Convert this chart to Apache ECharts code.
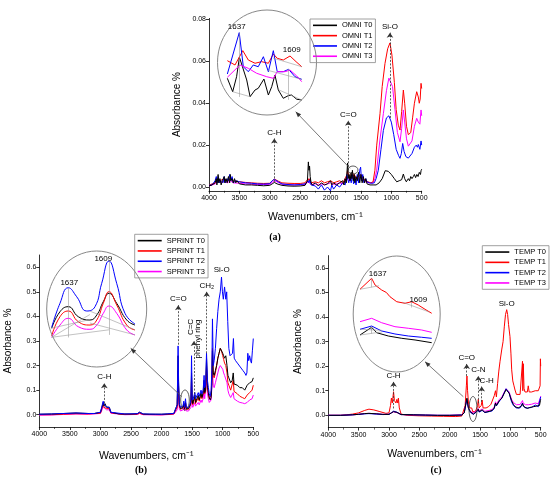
<!DOCTYPE html>
<html>
<head>
<meta charset="utf-8">
<script src="https://cdn.jsdelivr.net/npm/echarts@6/dist/echarts.min.js"></script>
<style>html,body{margin:0;padding:0;background:#fff}#chart{width:550px;height:480px}</style>
</head>
<body>
<div id="chart"></div>
<script>
// ---- data: [wavenumber, absorbance] ----
var omniT0 = [[4000,0.0005],[3950,0.001],[3900,0.002],[3880,0.004],[3870,0.001],[3850,0.006],[3840,0.002],[3820,0.004],[3800,0.001],[3780,0.003],[3750,0.005],[3740,0.002],[3720,0.004],[3700,0.002],[3680,0.005],[3660,0.002],[3650,0.006],[3640,0.003],[3620,0.004],[3600,0.002],[3580,0.004],[3560,0.002],[3540,0.003],[3500,0.0015],[3400,0.001],[3300,0.001],[3200,0.0008],[3100,0.0006],[3000,0.0008],[2960,0.0015],[2925,0.0022],[2880,0.0015],[2850,0.0018],[2800,0.0008],[2700,0.0005],[2600,0.0004],[2500,0.0005],[2420,0.0008],[2380,0.003],[2365,0.012],[2355,0.008],[2345,0.010],[2335,0.005],[2320,0.002],[2300,0.001],[2250,0.002],[2200,0.0005],[2150,0.002],[2100,0.001],[2050,0.0015],[2000,0.003],[1980,0.001],[1950,0.002],[1900,0.001],[1850,0.002],[1800,0.003],[1780,0.001],[1760,0.004],[1740,0.002],[1720,0.0115],[1710,0.004],[1695,0.006],[1680,0.003],[1660,0.007],[1650,0.004],[1640,0.008],[1625,0.003],[1610,0.006],[1600,0.002],[1580,0.005],[1560,0.003],[1540,0.007],[1520,0.002],[1500,0.006],[1480,0.002],[1460,0.005],[1440,0.002],[1420,0.004],[1400,0.0015],[1350,0.001],[1300,0.001],[1250,0.001],[1200,0.002],[1150,0.004],[1100,0.0078],[1076,0.0082],[1050,0.0075],[1000,0.006],[950,0.004],[911,0.0025],[870,0.003],[830,0.0035],[802,0.0062],[780,0.004],[753,0.0025],[720,0.004],[700,0.003],[680,0.005],[660,0.004],[638,0.005],[620,0.006],[600,0.0045],[580,0.006],[560,0.005],[540,0.007],[520,0.006],[511,0.0078],[500,0.0085]];
var omniT1 = [[4000,0.0008],[3950,0.0015],[3900,0.002],[3880,0.003],[3850,0.004],[3820,0.003],[3800,0.0025],[3750,0.004],[3700,0.003],[3650,0.004],[3600,0.003],[3500,0.0025],[3400,0.0022],[3300,0.002],[3200,0.0018],[3100,0.0017],[3000,0.0018],[2960,0.003],[2925,0.0038],[2900,0.003],[2860,0.0028],[2800,0.002],[2700,0.0018],[2600,0.0017],[2500,0.0017],[2420,0.002],[2370,0.004],[2355,0.003],[2340,0.004],[2320,0.002],[2250,0.0025],[2200,0.002],[2150,0.003],[2100,0.002],[2050,0.0025],[2000,0.003],[1950,0.002],[1900,0.0025],[1850,0.003],[1800,0.002],[1760,0.004],[1730,0.006],[1720,0.008],[1700,0.005],[1660,0.006],[1637,0.007],[1620,0.005],[1609,0.006],[1580,0.004],[1540,0.005],[1500,0.006],[1460,0.004],[1420,0.003],[1380,0.0025],[1340,0.002],[1300,0.0025],[1270,0.008],[1240,0.02],[1186,0.035],[1150,0.048],[1104,0.059],[1060,0.066],[1022,0.0688],[990,0.063],[950,0.05],[920,0.037],[885,0.0295],[857,0.0272],[830,0.036],[802,0.0463],[780,0.04],[750,0.029],[720,0.025],[704,0.0243],[680,0.026],[650,0.033],[620,0.04],[600,0.043],[582,0.0455],[556,0.043],[540,0.04],[525,0.042],[511,0.0495],[500,0.047]];
var omniT2 = [[4000,0.0008],[3950,0.001],[3900,0.003],[3880,0.005],[3860,0.002],[3845,0.005],[3830,0.002],[3800,0.003],[3770,0.002],[3750,0.005],[3730,0.002],[3700,0.004],[3680,0.003],[3660,0.006],[3640,0.003],[3620,0.005],[3600,0.002],[3560,0.003],[3500,0.0025],[3400,0.002],[3300,0.0018],[3200,0.0015],[3100,0.0014],[3000,0.0016],[2960,0.003],[2925,0.0037],[2900,0.0028],[2860,0.0025],[2800,0.0015],[2700,0.0012],[2600,0.001],[2500,0.0012],[2420,0.0015],[2370,0.003],[2355,0.002],[2340,0.0035],[2320,0.001],[2250,0.0005],[2200,-0.001],[2150,0.001],[2100,-0.0015],[2050,0],[2000,-0.0018],[1980,0.001],[1950,-0.001],[1900,0.001],[1850,0],[1800,0.002],[1760,0.001],[1730,0.006],[1720,0.004],[1700,0.002],[1680,0.005],[1660,0.002],[1640,0.006],[1620,0.0015],[1600,0.004],[1580,0.001],[1560,0.006],[1540,0.002],[1520,0.008],[1505,0.0095],[1490,0.003],[1470,0.006],[1450,0.002],[1420,0.004],[1400,0.0025],[1360,0.002],[1320,0.0018],[1280,0.002],[1250,0.004],[1214,0.008],[1170,0.018],[1131,0.027],[1080,0.033],[1040,0.034],[1000,0.031],[960,0.025],[920,0.018],[880,0.015],[857,0.0137],[835,0.016],[813,0.0208],[790,0.017],[760,0.0145],[720,0.0138],[692,0.0137],[660,0.016],[620,0.019],[590,0.02],[570,0.019],[556,0.0203],[530,0.018],[511,0.022],[500,0.02]];
var omniT3 = [[4000,0.0005],[3950,0.001],[3900,0.0015],[3850,0.003],[3800,0.002],[3750,0.003],[3700,0.002],[3650,0.003],[3600,0.002],[3500,0.0018],[3400,0.0015],[3300,0.0013],[3200,0.0012],[3100,0.0012],[3000,0.0013],[2960,0.0022],[2925,0.003],[2900,0.0025],[2860,0.0022],[2800,0.0013],[2700,0.001],[2600,0.001],[2500,0.001],[2420,0.0012],[2370,0.0025],[2355,0.002],[2340,0.003],[2320,0.0012],[2250,0.0015],[2200,0.001],[2150,0.0015],[2100,0.001],[2050,0.0015],[2000,0.002],[1950,0.0012],[1900,0.0015],[1850,0.002],[1800,0.0015],[1760,0.003],[1730,0.005],[1720,0.004],[1700,0.003],[1660,0.004],[1637,0.005],[1620,0.0035],[1609,0.0045],[1580,0.003],[1540,0.004],[1500,0.005],[1460,0.003],[1420,0.0025],[1380,0.002],[1340,0.002],[1300,0.002],[1270,0.004],[1240,0.0081],[1190,0.022],[1131,0.035],[1080,0.046],[1040,0.052],[1010,0.0527],[980,0.048],[940,0.037],[900,0.026],[857,0.0216],[830,0.028],[802,0.0368],[780,0.031],[750,0.023],[720,0.0195],[692,0.0192],[660,0.022],[620,0.029],[582,0.0328],[556,0.031],[530,0.03],[511,0.0368],[500,0.034]];

var sprintT0 = [[4000,0.002],[3800,0.003],[3600,0.005],[3400,0.007],[3300,0.006],[3200,0.005],[3100,0.005],[3000,0.01],[2970,0.035],[2955,0.05],[2940,0.035],[2925,0.045],[2900,0.03],[2875,0.035],[2855,0.03],[2830,0.01],[2800,0.005],[2700,0.003],[2600,0.003],[2500,0.003],[2400,0.004],[2360,0.01],[2340,0.006],[2300,0.003],[2200,0.002],[2100,0.002],[2000,0.002],[1900,0.003],[1800,0.005],[1770,0.012],[1745,0.04],[1730,0.24],[1722,0.12],[1710,0.04],[1690,0.025],[1670,0.02],[1650,0.03],[1637,0.045],[1625,0.025],[1609,0.05],[1595,0.025],[1580,0.03],[1560,0.025],[1540,0.035],[1520,0.05],[1510,0.17],[1500,0.06],[1490,0.045],[1470,0.05],[1455,0.08],[1445,0.05],[1420,0.055],[1400,0.08],[1385,0.06],[1370,0.065],[1355,0.09],[1340,0.07],[1320,0.09],[1305,0.14],[1295,0.09],[1280,0.1],[1265,0.23],[1250,0.12],[1235,0.09],[1220,0.07],[1205,0.06],[1190,0.07],[1178,0.12],[1168,0.26],[1155,0.17],[1140,0.16],[1120,0.18],[1100,0.2],[1080,0.23],[1060,0.25],[1040,0.27],[1020,0.265],[1000,0.25],[985,0.24],[970,0.23],[950,0.24],[930,0.2],[915,0.16],[900,0.15],[870,0.13],[845,0.14],[828,0.17],[815,0.125],[790,0.12],[760,0.12],[720,0.11],[680,0.11],[640,0.1],[615,0.105],[600,0.12],[580,0.125],[560,0.13],[540,0.125],[520,0.135],[500,0.15]];
var sprintT1 = [[4000,0],[3800,0],[3600,0.002],[3400,0.004],[3200,0.003],[3000,0.006],[2970,0.03],[2955,0.042],[2940,0.03],[2925,0.038],[2900,0.025],[2875,0.03],[2855,0.025],[2830,0.008],[2800,0.003],[2600,0.001],[2400,0.002],[2360,0.006],[2300,0.001],[2000,0],[1800,0.003],[1770,0.01],[1745,0.03],[1730,0.18],[1722,0.1],[1710,0.035],[1690,0.022],[1670,0.018],[1650,0.028],[1637,0.04],[1625,0.022],[1609,0.05],[1595,0.022],[1580,0.025],[1560,0.022],[1540,0.03],[1520,0.045],[1510,0.15],[1500,0.055],[1490,0.04],[1470,0.045],[1455,0.07],[1445,0.045],[1420,0.05],[1400,0.07],[1385,0.055],[1370,0.06],[1355,0.08],[1340,0.065],[1320,0.085],[1305,0.13],[1295,0.085],[1280,0.095],[1265,0.2],[1250,0.11],[1235,0.085],[1220,0.065],[1205,0.06],[1190,0.08],[1178,0.15],[1168,0.27],[1155,0.16],[1140,0.15],[1120,0.17],[1100,0.2],[1080,0.23],[1060,0.25],[1040,0.27],[1020,0.26],[1000,0.24],[985,0.225],[970,0.21],[950,0.2],[930,0.17],[915,0.13],[900,0.12],[870,0.1],[845,0.1],[828,0.14],[815,0.095],[790,0.09],[760,0.085],[720,0.075],[680,0.07],[640,0.065],[615,0.07],[600,0.08],[580,0.085],[560,0.09],[540,0.085],[520,0.1],[500,0.12]];
var sprintT2 = [[4000,0.002],[3800,0.003],[3600,0.005],[3400,0.007],[3200,0.005],[3100,0.005],[3000,0.01],[2970,0.04],[2955,0.055],[2940,0.04],[2925,0.048],[2900,0.032],[2875,0.038],[2855,0.03],[2830,0.01],[2800,0.005],[2600,0.003],[2400,0.004],[2360,0.01],[2340,0.006],[2300,0.003],[2000,0.002],[1800,0.005],[1770,0.012],[1745,0.04],[1730,0.28],[1722,0.14],[1710,0.045],[1690,0.03],[1670,0.025],[1650,0.035],[1637,0.055],[1625,0.03],[1609,0.065],[1595,0.03],[1580,0.035],[1560,0.03],[1540,0.04],[1520,0.06],[1510,0.24],[1500,0.07],[1490,0.06],[1470,0.065],[1455,0.09],[1445,0.065],[1420,0.07],[1400,0.09],[1385,0.075],[1370,0.08],[1355,0.1],[1340,0.085],[1320,0.1],[1305,0.16],[1295,0.11],[1280,0.12],[1265,0.25],[1250,0.14],[1235,0.11],[1220,0.085],[1205,0.075],[1190,0.1],[1178,0.18],[1168,0.39],[1155,0.2],[1140,0.22],[1120,0.27],[1100,0.35],[1080,0.42],[1060,0.47],[1040,0.5],[1020,0.56],[1005,0.5],[990,0.47],[970,0.52],[950,0.47],[935,0.5],[918,0.38],[900,0.27],[880,0.24],[860,0.24],[840,0.25],[825,0.31],[812,0.23],[790,0.22],[760,0.21],[730,0.215],[700,0.19],[670,0.18],[640,0.17],[620,0.16],[605,0.17],[590,0.25],[575,0.22],[560,0.24],[545,0.22],[530,0.21],[515,0.26],[500,0.31]];
var sprintT3 = [[4000,-0.002],[3800,-0.001],[3600,0.001],[3400,0.003],[3200,0.002],[3000,0.005],[2970,0.022],[2955,0.032],[2940,0.024],[2925,0.03],[2900,0.02],[2875,0.024],[2855,0.02],[2830,0.006],[2800,0.002],[2600,0],[2400,0.001],[2360,0.005],[2300,0],[2000,-0.001],[1800,0.002],[1770,0.008],[1745,0.02],[1730,0.09],[1722,0.06],[1710,0.025],[1690,0.015],[1670,0.012],[1650,0.02],[1637,0.03],[1625,0.015],[1609,0.038],[1595,0.015],[1580,0.018],[1560,0.015],[1540,0.02],[1520,0.03],[1510,0.1],[1500,0.04],[1490,0.03],[1470,0.035],[1455,0.05],[1445,0.035],[1420,0.04],[1400,0.05],[1385,0.04],[1370,0.045],[1355,0.06],[1340,0.05],[1320,0.065],[1305,0.1],[1295,0.065],[1280,0.07],[1265,0.15],[1250,0.085],[1235,0.065],[1220,0.05],[1205,0.045],[1190,0.06],[1178,0.11],[1168,0.18],[1155,0.12],[1140,0.11],[1120,0.13],[1100,0.15],[1080,0.17],[1060,0.19],[1040,0.2],[1020,0.195],[1000,0.185],[985,0.17],[970,0.16],[950,0.155],[930,0.13],[915,0.1],[900,0.085],[870,0.07],[845,0.07],[828,0.09],[815,0.065],[790,0.06],[760,0.055],[720,0.05],[680,0.048],[640,0.045],[615,0.048],[600,0.05],[580,0.055],[560,0.06],[540,0.055],[520,0.065],[500,0.08]];

var tempT0 = [[4000,0],[3800,0],[3600,0.002],[3500,0.004],[3400,0.007],[3330,0.008],[3200,0.006],[3100,0.004],[3000,0.004],[2960,0.01],[2925,0.015],[2900,0.01],[2870,0.012],[2850,0.011],[2800,0.003],[2600,0.002],[2400,0.001],[2200,0],[2000,0],[1800,0.001],[1760,0.01],[1725,0.06],[1715,0.07],[1705,0.05],[1690,0.03],[1660,0.015],[1637,0.01],[1610,0.005],[1590,0.008],[1560,0.015],[1540,0.018],[1528,0.025],[1515,0.015],[1490,0.012],[1465,0.022],[1450,0.015],[1420,0.012],[1400,0.014],[1350,0.016],[1300,0.02],[1265,0.03],[1245,0.05],[1230,0.04],[1210,0.045],[1180,0.06],[1140,0.07],[1100,0.09],[1070,0.105],[1060,0.11],[1045,0.105],[1020,0.09],[1000,0.075],[980,0.06],[950,0.045],[923,0.035],[900,0.032],[870,0.03],[840,0.032],[815,0.038],[800,0.048],[790,0.04],[775,0.035],[750,0.032],[720,0.028],[705,0.03],[680,0.032],[650,0.033],[620,0.035],[590,0.04],[560,0.038],[540,0.036],[520,0.04],[505,0.06],[500,0.065]];
var tempT1 = [[4000,0],[3800,0],[3700,0.002],[3600,0.005],[3500,0.01],[3400,0.02],[3330,0.025],[3250,0.022],[3150,0.015],[3050,0.008],[3000,0.01],[2975,0.04],[2960,0.07],[2945,0.05],[2925,0.096],[2910,0.06],[2885,0.05],[2870,0.065],[2855,0.05],[2845,0.07],[2830,0.03],[2800,0.005],[2700,0],[2500,-0.002],[2300,-0.003],[2100,-0.004],[1900,-0.005],[1800,-0.003],[1770,0.005],[1745,0.04],[1725,0.12],[1715,0.16],[1705,0.1],[1690,0.05],[1670,0.03],[1650,0.025],[1637,0.03],[1620,0.015],[1600,0.01],[1580,0.015],[1560,0.025],[1540,0.04],[1528,0.065],[1515,0.03],[1495,0.025],[1480,0.04],[1465,0.062],[1450,0.03],[1420,0.025],[1400,0.03],[1360,0.035],[1320,0.045],[1290,0.05],[1265,0.08],[1245,0.1],[1230,0.075],[1210,0.13],[1190,0.18],[1170,0.22],[1143,0.266],[1120,0.3],[1100,0.36],[1080,0.41],[1060,0.43],[1045,0.41],[1030,0.37],[1006,0.32],[990,0.25],[978,0.185],[960,0.14],[940,0.12],[923,0.103],[900,0.085],[868,0.083],[840,0.085],[815,0.09],[800,0.22],[795,0.1],[787,0.21],[775,0.11],[759,0.095],[740,0.09],[720,0.095],[705,0.12],[690,0.095],[670,0.1],[650,0.095],[620,0.103],[590,0.1],[560,0.1],[540,0.1],[520,0.098],[510,0.12],[505,0.23],[500,0.2]];
var tempT2 = [[4000,0],[3800,0],[3600,0.002],[3500,0.004],[3400,0.006],[3330,0.007],[3200,0.005],[3100,0.003],[3000,0.004],[2960,0.01],[2925,0.017],[2900,0.011],[2870,0.013],[2850,0.012],[2800,0.003],[2600,0.002],[2400,0.001],[2200,0],[2000,0],[1800,0.001],[1760,0.01],[1725,0.055],[1715,0.065],[1705,0.045],[1690,0.028],[1660,0.012],[1637,0.008],[1610,0.004],[1590,0.007],[1560,0.013],[1540,0.016],[1528,0.022],[1515,0.013],[1490,0.011],[1465,0.02],[1450,0.013],[1420,0.011],[1400,0.013],[1350,0.015],[1300,0.018],[1265,0.028],[1245,0.048],[1230,0.038],[1210,0.043],[1180,0.058],[1140,0.07],[1100,0.092],[1070,0.108],[1060,0.114],[1045,0.108],[1020,0.09],[1000,0.072],[980,0.055],[950,0.04],[923,0.034],[900,0.03],[870,0.028],[840,0.03],[815,0.035],[800,0.05],[790,0.038],[775,0.032],[750,0.03],[720,0.027],[705,0.03],[680,0.031],[650,0.032],[620,0.034],[590,0.042],[560,0.037],[540,0.035],[520,0.04],[505,0.07],[500,0.075]];
var tempT3 = [[4000,0],[3800,0],[3600,0.002],[3500,0.004],[3400,0.007],[3330,0.008],[3200,0.006],[3100,0.004],[3000,0.004],[2960,0.01],[2925,0.014],[2900,0.01],[2870,0.011],[2850,0.01],[2800,0.003],[2600,0.002],[2400,0.001],[2200,0],[2000,0],[1800,0.002],[1760,0.012],[1725,0.06],[1715,0.068],[1705,0.05],[1690,0.03],[1660,0.016],[1637,0.013],[1610,0.01],[1590,0.012],[1560,0.018],[1540,0.021],[1528,0.028],[1515,0.018],[1490,0.016],[1465,0.026],[1450,0.018],[1420,0.016],[1400,0.018],[1350,0.02],[1300,0.024],[1265,0.034],[1245,0.055],[1230,0.045],[1210,0.05],[1180,0.065],[1140,0.075],[1100,0.095],[1070,0.108],[1060,0.112],[1045,0.108],[1020,0.095],[1000,0.08],[980,0.065],[950,0.052],[923,0.045],[900,0.043],[870,0.042],[840,0.044],[815,0.05],[800,0.06],[790,0.05],[775,0.046],[750,0.043],[720,0.04],[705,0.043],[680,0.044],[650,0.045],[620,0.047],[590,0.05],[560,0.048],[540,0.047],[520,0.05],[505,0.072],[500,0.078]];

// zoomed 1650-1600 cm-1 insets, relative height 0-100 inside each ellipse
var omniInsetT0 = [[1643.8,32.9],[1640.8,14.3],[1638.6,35.1],[1637,62.1],[1632.9,30.6],[1631,7.4],[1628.2,16.7],[1626.4,19],[1623.2,31.9],[1620.7,9.7],[1618.8,21.3],[1617,37.5],[1615.1,16.7],[1612.3,5.1],[1609.5,8.8],[1607.6,9.7],[1604.7,3.8],[1601.9,2.8]];
var omniInsetT1 = [[1643.8,57.4],[1639.5,51.4],[1635.1,71.3],[1632,58.3],[1628.2,53.8],[1624.5,56],[1620.7,53.8],[1617.9,66.7],[1615.7,60.7],[1612.3,58.3],[1608.5,63.9],[1605.1,56],[1601.9,49]];
var omniInsetT2 = [[1643.8,38.9],[1637.1,96.3],[1634.8,49],[1632,42.1],[1629.2,51.4],[1626.4,49],[1623.5,62.9],[1620.7,42.1],[1617.9,71.3],[1615.7,42.1],[1612.3,42.1],[1609.3,45.4],[1605.7,35.1],[1601.9,31.5]];
var omniInsetT3 = [[1643.8,34.3],[1636.7,51.4],[1632,46.8],[1627.3,39.9],[1621.6,35.1],[1617.9,32.9],[1615.7,42.1],[1611.3,42.1],[1608.5,44.4],[1604.7,36.1],[1601.9,28.2]];

var sprintInsetT0 = [[1648.4,13.8],[1642.7,33.3],[1637,39.2],[1630.1,27.4],[1622.1,23.5],[1617.4,29.4],[1612.9,45.1],[1609,54.9],[1603.7,43.2],[1596.8,23.5],[1591.1,17.6]];
var sprintInsetT1 = [[1648.4,4.7],[1642.7,27.4],[1637,34.1],[1630.1,21.5],[1622.1,17.6],[1617.4,23.5],[1612.9,43.2],[1609,56.8],[1603.7,41.2],[1596.8,17.6],[1591.1,11.8]];
var sprintInsetT2 = [[1648.4,14.9],[1642.7,43.2],[1637,61.5],[1631.2,50.9],[1624.3,34.1],[1618.6,39.2],[1614,66.7],[1609,92.9],[1603.7,66.7],[1598,31.4],[1591.1,18.8]];
var sprintInsetT3 = [[1648.4,3.2],[1642.7,17.6],[1637,25.5],[1630.1,15.6],[1622.1,12.6],[1617.4,17.6],[1612.9,31.4],[1609,40],[1603.7,31.4],[1596.8,11.8],[1591.1,5.9]];

var tempInsetT0 = [[1644.9,13.3],[1637,23.6],[1633.6,16.4],[1625.7,12],[1616.6,8.9],[1607.6,6.7],[1596.3,3.1]];
var tempInsetT1 = [[1644.9,74.3],[1637,88.9],[1634.7,80],[1630.2,73.3],[1627,70],[1624.6,64.4],[1620,57.7],[1614.4,55.6],[1609.9,57.7],[1605.4,53.3],[1600.8,47.6],[1596.3,42.3]];
var tempInsetT2 = [[1644.9,20.9],[1637,25.3],[1630.2,18.7],[1621.2,14.7],[1612.2,12],[1603.1,10.3],[1596.3,8.9]];
var tempInsetT3 = [[1644.9,31.1],[1637,35.6],[1630.2,29.7],[1621.2,24.4],[1612.2,22.3],[1603.1,20],[1596.3,16.9]];

// tick labels
var absTicksA = [0, 0.02, 0.04, 0.06, 0.08];
var absTicksBC = [0, 0.1, 0.2, 0.3, 0.4, 0.5, 0.6];

var BLACK = '#000000', RED = '#ff0000', BLUE = '#0000ff', MAG = '#ff00ff';
var FONT = 'Liberation Sans';

var chart = echarts.init(document.getElementById('chart'));

function mainX(gi, gap) {
  return {
    type: 'value', gridIndex: gi, min: 500, max: 4000, interval: 500, inverse: true,
    axisLine: {show: true, onZero: false, lineStyle: {color: '#000', width: 0.8}},
    axisTick: {show: true, length: 3, lineStyle: {color: '#000', width: 0.8}},
    minorTick: {show: true, splitNumber: 2, length: 2, lineStyle: {color: '#000', width: 0.6}},
    splitLine: {show: false},
    axisLabel: {fontSize: 7, color: '#000', margin: 4, fontFamily: FONT,
      formatter: function (v) { return String(v); }},
    name: 'Wavenumbers, cm\u207B\u00B9', nameLocation: 'middle', nameGap: gap,
    nameTextStyle: {fontSize: 10.5, color: '#000', fontFamily: FONT}
  };
}
function mainY(gi, min, max, ticks, dec, gap) {
  return {
    type: 'value', gridIndex: gi, min: min, max: max,
    axisLine: {show: true, onZero: false, lineStyle: {color: '#000', width: 0.8}},
    axisTick: {show: true, length: 3, customValues: ticks, lineStyle: {color: '#000', width: 0.8}},
    splitLine: {show: false},
    axisLabel: {customValues: ticks, fontSize: 7, color: '#000', margin: 3, fontFamily: FONT,
      formatter: function (v) { return v.toFixed(dec); }},
    name: 'Absorbance %', nameLocation: 'middle', nameGap: gap, nameRotate: 90,
    nameTextStyle: {fontSize: 10, color: '#000', fontFamily: FONT}
  };
}
function insetX(gi, lo, hi) {
  return {type: 'value', gridIndex: gi, min: lo, max: hi, inverse: true, show: false};
}
function insetY(gi) {
  return {type: 'value', gridIndex: gi, min: 0, max: 100, show: false};
}
function spec(name, data, ai, color, extra) {
  var s = {name: name, type: 'line', xAxisIndex: ai, yAxisIndex: ai, data: data,
    symbol: 'none', lineStyle: {color: color, width: 1}, itemStyle: {color: color}};
  if (extra) for (var k in extra) s[k] = extra[k];
  return s;
}
function arrows(list) {
  return {
    silent: true, animation: false, symbol: ['none', 'arrow'], symbolSize: 5,
    lineStyle: {type: [2, 1.5], color: '#333', width: 0.8},
    label: {show: true, position: 'end', distance: 2, fontSize: 8, color: '#000', fontFamily: FONT},
    data: list.map(function (a) {
      var lab = {formatter: a[3]};
      if (a[4]) lab.offset = a[4];
      return [{coord: [a[0], a[1]], label: lab}, {coord: [a[0], a[2]]}];
    })
  };
}
function guides(list) {
  return {
    silent: true, animation: false, symbol: 'none',
    lineStyle: {type: 'solid', color: '#999', width: 0.6}, label: {show: false},
    data: list.map(function (g) { return [{coord: [g[0], g[1]]}, {coord: [g[2], g[3]]}]; })
  };
}
function pointer(x1, y1, x2, y2) {
  var a = Math.atan2(y2 - y1, x2 - x1), h = 5.5, w = 2.2;
  var c = Math.cos(a), s = Math.sin(a);
  return [
    {type: 'line', z: 50, shape: {x1: x1, y1: y1, x2: x2, y2: y2}, style: {stroke: '#555', lineWidth: 0.8}},
    {type: 'polygon', z: 50, shape: {points: [[x2, y2], [x2 - h * c + w * s, y2 - h * s - w * c], [x2 - h * c - w * s, y2 - h * s + w * c]]}, style: {fill: '#333'}}
  ];
}
function txt(x, y, t, size, rot) {
  return {type: 'text', z: 50, x: x, y: y, rotation: rot || 0,
    style: {text: t, fontSize: size || 8, fontFamily: FONT, fill: '#000', align: 'center', verticalAlign: 'middle'}};
}
function tag(x, y, t) {
  return {type: 'text', z: 50, x: x, y: y,
    style: {text: t, fontSize: 10, fontWeight: 'bold', fontFamily: 'Liberation Serif', fill: '#000', align: 'center', verticalAlign: 'middle'}};
}
function ring(cx, cy, rx, ry, color, w) {
  return {type: 'ellipse', z: 40, shape: {cx: cx, cy: cy, rx: rx, ry: ry}, style: {fill: null, stroke: color, lineWidth: w}};
}
function legend(left, top, names) {
  return {left: left, top: top, data: names, orient: 'vertical', icon: 'rect',
    itemWidth: 24, itemHeight: 1.6, itemGap: 1.6, padding: [2, 3, 2, 3],
    borderColor: '#888', borderWidth: 0.8,
    textStyle: {fontSize: 7.5, color: '#000', fontFamily: FONT, lineHeight: 8.7}};
}

var graphic = [
  ring(267, 62.5, 49.5, 52.5, '#888', 1),
  ring(96.7, 309, 50, 58, '#888', 1),
  ring(396.7, 314, 43.5, 58, '#888', 1),
  ring(353, 170, 5, 4, '#333', 0.8),
  ring(185, 400, 4.3, 10, '#333', 0.8),
  ring(473, 409, 4, 12.5, '#333', 0.8),
  txt(236.7, 26.7, '1637'), txt(291.7, 49.3, '1609'),
  txt(69.3, 282.5, '1637'), txt(103.3, 258.3, '1609'),
  txt(377.7, 274, '1637'), txt(418.3, 299.3, '1609'),
  txt(221.7, 270, 'Si-O'), txt(506.7, 303.3, 'Si-O'),
  txt(190.5, 327, 'C=C', 8, Math.PI / 2),
  txt(197.5, 339, 'phenyl ring', 8, Math.PI / 2),
  tag(275, 237, '(a)'), tag(141, 470, '(b)'), tag(436, 470, '(c)')
].concat(pointer(350, 168.3, 295.7, 111.7), pointer(181.7, 396.7, 130.7, 348.3), pointer(463.3, 396.7, 425, 361.7));

var option = {
  animation: false,
  backgroundColor: '#fff',
  textStyle: {fontFamily: FONT},
  grid: [
    {left: 209, top: 18.4, width: 212.7, height: 172.4},
    {left: 39.3, top: 255, width: 214, height: 172},
    {left: 328.3, top: 255.6, width: 212.4, height: 172},
    {left: 227, top: 30, width: 75, height: 72},
    {left: 51.7, top: 255, width: 83.3, height: 85},
    {left: 360, top: 270, width: 71.7, height: 75}
  ],
  xAxis: [mainX(0, 21), mainX(1, 24), mainX(2, 21),
    insetX(3, 1601.75, 1644), insetX(4, 1591.1, 1648.4), insetX(5, 1596.3, 1644.9)],
  yAxis: [mainY(0, -0.0018, 0.0805, absTicksA, 2, 27), mainY(1, -0.05, 0.65, absTicksBC, 1, 26), mainY(2, -0.05, 0.65, absTicksBC, 1, 25),
    insetY(3), insetY(4), insetY(5)],
  legend: [
    legend(310, 19, ['OMNI T0', 'OMNI T1', 'OMNI T2', 'OMNI T3']),
    legend(134.7, 234.3, ['SPRINT T0', 'SPRINT T1', 'SPRINT T2', 'SPRINT T3']),
    legend(482.3, 245.7, ['TEMP T0', 'TEMP T1', 'TEMP T2', 'TEMP T3'])
  ],
  series: [
    spec('OMNI T3', omniT3, 0, MAG),
    spec('OMNI T1', omniT1, 0, RED),
    spec('OMNI T2', omniT2, 0, BLUE),
    spec('OMNI T0', omniT0, 0, BLACK, {markLine: arrows([
      [2925, 0.0025, 0.0232, 'C-H'], [1708, 0.008, 0.0316, 'C=O'], [1022, 0.033, 0.0737, 'Si-O']])}),

    spec('SPRINT T3', sprintT3, 1, MAG),
    spec('SPRINT T1', sprintT1, 1, RED),
    spec('SPRINT T0', sprintT0, 1, BLACK),
    spec('SPRINT T2', sprintT2, 1, BLUE, {markLine: arrows([
      [2937, 0.046, 0.128, 'C-H'], [1727, 0.285, 0.446, 'C=O'], [1470, 0.07, 0.3, ''], [1262, 0.25, 0.5, 'CH\u2082']])}),

    spec('TEMP T1', tempT1, 2, RED),
    spec('TEMP T3', tempT3, 2, MAG),
    spec('TEMP T2', tempT2, 2, BLUE),
    spec('TEMP T0', tempT0, 2, BLACK, {markLine: arrows([
      [2925, 0.028, 0.137, 'C-H'], [1719, 0.16, 0.209, 'C=O'], [1528, 0.049, 0.16, 'C-N'], [1472, 0.055, 0.117, 'C-H', [5, 0]]])}),

    spec('oi0', omniInsetT0, 3, BLACK, {markLine: guides([
      [1637, 7, 1637, 96], [1609.3, 3, 1609.3, 46], [1640.8, 14.3, 1631, 7.4], [1615, 17, 1601.9, 2.8],
      [1621, 44, 1601.9, 31.5], [1618, 61, 1601.9, 49]])}),
    spec('oi1', omniInsetT1, 3, RED),
    spec('oi2', omniInsetT2, 3, BLUE),
    spec('oi3', omniInsetT3, 3, MAG),

    spec('si0', sprintInsetT0, 4, BLACK, {smooth: true, markLine: guides([
      [1637, 3, 1637, 61.5], [1609, 6, 1609, 93], [1648.4, 3.2, 1622.1, 30], [1648.4, 3.2, 1609, 12],
      [1648.4, 14, 1622.1, 24], [1622.1, 20, 1591.1, 6], [1622.1, 34, 1591.1, 12]])}),
    spec('si1', sprintInsetT1, 4, RED, {smooth: true}),
    spec('si2', sprintInsetT2, 4, BLUE, {smooth: true}),
    spec('si3', sprintInsetT3, 4, MAG, {smooth: true}),

    spec('ti0', tempInsetT0, 5, BLACK, {markLine: guides([
      [1644.9, 74.3, 1632, 79], [1637, 77, 1637, 89], [1616, 57, 1598, 44], [1609.9, 50, 1609.9, 57.7],
      [1644.9, 13.3, 1630, 17.5], [1637, 15, 1637, 23.6], [1644.9, 21, 1630, 19.5], [1637, 20, 1637, 25.3]])}),
    spec('ti1', tempInsetT1, 5, RED),
    spec('ti2', tempInsetT2, 5, BLUE),
    spec('ti3', tempInsetT3, 5, MAG)
  ],
  graphic: graphic
};
chart.setOption(option);
</script>
</body>
</html>
